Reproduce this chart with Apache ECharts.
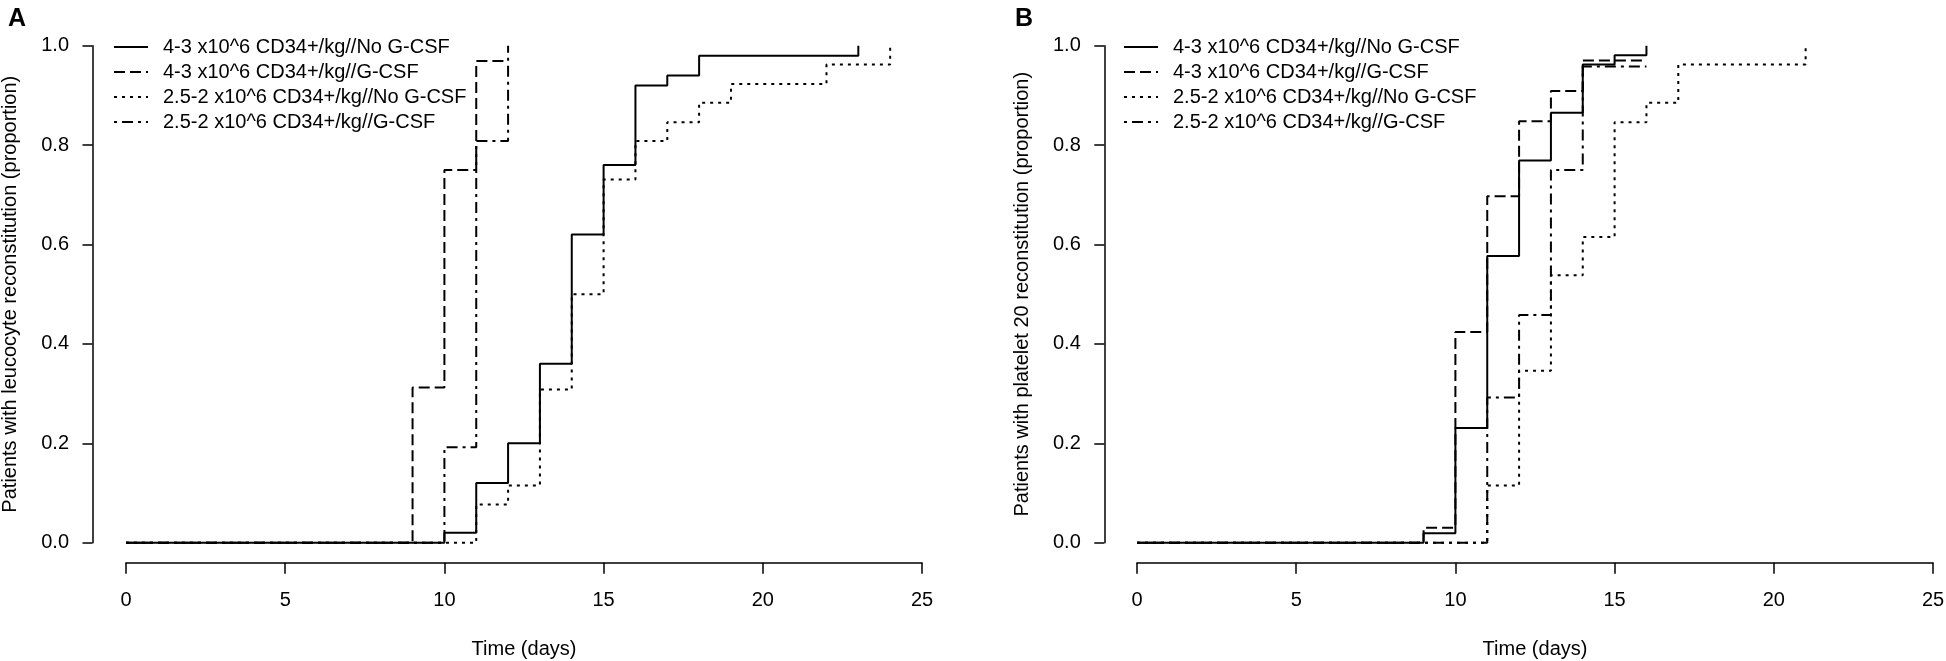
<!DOCTYPE html>
<html>
<head>
<meta charset="utf-8">
<script src="https://cdn.jsdelivr.net/npm/echarts@6/dist/echarts.min.js"></script>
<style>
html,body{margin:0;padding:0;background:#fff;}
#chart{width:1946px;height:661px;}
</style>
</head>
<body>
<div id="chart"></div>
<script>
// ---- Data ----
const seriesNames = [
  '4-3 x10^6 CD34+/kg//No G-CSF',
  '4-3 x10^6 CD34+/kg//G-CSF',
  '2.5-2 x10^6 CD34+/kg//No G-CSF',
  '2.5-2 x10^6 CD34+/kg//G-CSF'
];
const xTicks = [0, 5, 10, 15, 20, 25];
const yTicks = [0, 0.2, 0.4, 0.6, 0.8, 1.0];

// Panel A: leucocyte reconstitution
const aHighNoGTime = [0, 10, 11, 12, 13, 14, 15, 16, 17, 18, 23];
const aHighNoGVal  = [0, 0.02, 0.12, 0.20, 0.36, 0.62, 0.76, 0.92, 0.94, 0.98, 1.0];
const aHighGTime   = [0, 9, 10, 11, 12];
const aHighGVal    = [0, 0.3125, 0.75, 0.969, 0.969];
const aLowNoGTime  = [0, 11, 12, 13, 14, 15, 16, 17, 18, 19, 22, 24];
const aLowNoGVal   = [0, 0.077, 0.115, 0.308, 0.50, 0.731, 0.808, 0.846, 0.885, 0.923, 0.962, 1.0];
const aLowGTime    = [0, 10, 11, 12];
const aLowGVal     = [0, 0.192, 0.808, 1.0];

// Panel B: platelet 20 reconstitution
const bHighNoGTime = [0, 9, 10, 11, 12, 13, 14, 15, 16];
const bHighNoGVal  = [0, 0.019, 0.231, 0.577, 0.769, 0.865, 0.962, 0.981, 1.0];
const bHighGTime   = [0, 9, 10, 11, 12, 13, 14, 16];
const bHighGVal    = [0, 0.030, 0.424, 0.697, 0.848, 0.909, 0.970, 0.970];
const bLowNoGTime  = [0, 11, 12, 13, 14, 15, 16, 17, 21];
const bLowNoGVal   = [0, 0.115, 0.346, 0.538, 0.615, 0.846, 0.885, 0.962, 1.0];
const bLowGTime    = [0, 11, 12, 13, 14, 16];
const bLowGVal     = [0, 0.292, 0.458, 0.75, 0.958, 0.958];

const panelLetters = ['A', 'B'];
const yTitles = [
  'Patients with leucocyte reconstitution (proportion)',
  'Patients with platelet 20 reconstitution (proportion)'
];
const xTitle = 'Time (days)';

// ---- Styles ----
const FONT = '"Liberation Sans", Arial, Helvetica, sans-serif';
const dashTypes = ['solid', [11, 5], [3, 5], [3, 5, 11, 5]];

function pairs(t, v) { return t.map((x, i) => [x, v[i]]); }

const panels = [
  [pairs(aHighNoGTime, aHighNoGVal), pairs(aHighGTime, aHighGVal), pairs(aLowNoGTime, aLowNoGVal), pairs(aLowGTime, aLowGVal)],
  [pairs(bHighNoGTime, bHighNoGVal), pairs(bHighGTime, bHighGVal), pairs(bLowNoGTime, bLowNoGVal), pairs(bLowGTime, bLowGVal)]
];

const gridLefts = [126, 1137];
const axisOffsets = [33.5, 32.7];

const grids = gridLefts.map(l => ({
  left: l, top: 45.7, width: 796, height: 497,
  containLabel: false, outerBoundsMode: 'none'
}));

const xAxes = gridLefts.map((l, i) => ({
  type: 'value', gridIndex: i, min: 0, max: 25, interval: 5,
  offset: 20,
  axisLine: { show: true, onZero: false, lineStyle: { color: '#000', width: 1.5 } },
  axisTick: { show: true, length: 11, lineStyle: { color: '#000', width: 1.5 } },
  axisLabel: { color: '#000', fontSize: 20, fontFamily: FONT, margin: 28 },
  splitLine: { show: false },
  name: xTitle, nameLocation: 'middle', nameGap: 77,
  nameTextStyle: { color: '#000', fontSize: 20, fontFamily: FONT }
}));

const yAxes = gridLefts.map((l, i) => ({
  type: 'value', gridIndex: i, min: 0, max: 1, interval: 0.2,
  offset: axisOffsets[i],
  axisLine: { show: true, onZero: false, lineStyle: { color: '#000', width: 1.5 } },
  axisTick: { show: true, length: 10, lineStyle: { color: '#000', width: 1.5 } },
  axisLabel: { color: '#000', fontSize: 20, fontFamily: FONT, margin: 23.5,
               formatter: v => v.toFixed(1) },
  splitLine: { show: false },
  name: yTitles[i], nameLocation: 'middle', nameGap: 72,
  nameTextStyle: { color: '#000', fontSize: 20, fontFamily: FONT }
}));

const series = [];
panels.forEach((p, pi) => {
  p.forEach((d, si) => {
    series.push({
      type: 'line', name: seriesNames[si],
      xAxisIndex: pi, yAxisIndex: pi,
      data: d, step: 'end', symbol: 'none', showSymbol: false, clip: false,
      lineStyle: { color: '#000', width: 2, type: dashTypes[si] },
      itemStyle: { color: '#000', opacity: 0 },
      emphasis: { disabled: true }
    });
  });
});

const legendLefts = [113, 1123];
const legends = legendLefts.map(l => ({
  data: seriesNames, orient: 'vertical', left: l, top: 37, padding: 0,
  itemWidth: 34, itemHeight: 14, itemGap: 5,
  selectedMode: false,
  formatter: n => '{g| }{t|' + n + '}',
  textStyle: { color: '#000', fontSize: 20, fontFamily: FONT, lineHeight: 20,
               rich: {
                 g: { width: 10, height: 20, fontSize: 20 },
                 t: { color: '#000', fontSize: 20, fontFamily: FONT, lineHeight: 20 }
               } },
  lineStyle: { width: 2 },
  itemStyle: { opacity: 0, borderWidth: 0 }
}));

const titles = [
  { text: panelLetters[0], left: 3, top: 2, textStyle: { fontSize: 25, fontWeight: 'bold', color: '#000', fontFamily: FONT } },
  { text: panelLetters[1], left: 1010, top: 2, textStyle: { fontSize: 25, fontWeight: 'bold', color: '#000', fontFamily: FONT } }
];

const chart = echarts.init(document.getElementById('chart'), null, { renderer: 'canvas' });
chart.setOption({
  animation: false,
  backgroundColor: '#fff',
  title: titles,
  legend: legends,
  grid: grids,
  xAxis: xAxes,
  yAxis: yAxes,
  series: series
});
</script>
</body>
</html>
